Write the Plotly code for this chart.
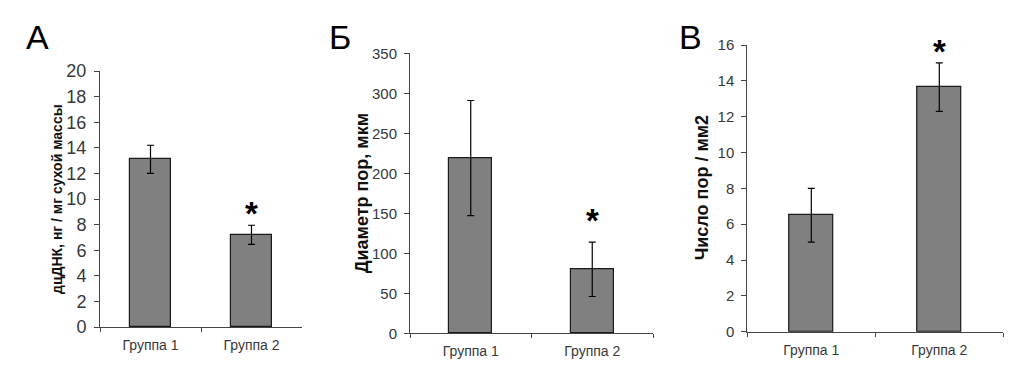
import plotly.graph_objects as go

# page body has an 8px margin; design in screen pixels and convert
OFF = 8
W, H = 1033 - OFF, 378 - OFF


def fx(px):
    return (px - OFF) / W


def fy(py):
    return 1 - (py - OFF) / H


categories = ["Группа 1", "Группа 2"]

dna_values = [13.1, 7.2]
dna_err = [1.1, 0.75]

diam_values = [219, 80]
diam_err = [72, 34]

count_values = [6.5, 13.65]
count_err = [1.5, 1.35]

panel_letters = ["А", "Б", "В"]
y_titles = ["дцДНК, нг / мг сухой массы", "Диаметр пор, мкм", "Число пор / мм2"]
star_y = [9.4, 150, 16.0]

BAR = "#808080"
LINE = "#1a1a1a"
TXT = "#383838"
FONT = "Liberation Sans, Arial, sans-serif"

fig = go.Figure()

panels = [
    dict(vals=dna_values, err=dna_err, x0=100, x1=302, ytop=71, ybot=327,
         yr=[0, 20], dtick=2, bw=0.4, tfs=18, titlefs=14, star=star_y[0],
         letter_x=37, title_x=57),
    dict(vals=diam_values, err=diam_err, x0=410, x1=653, ytop=53.3, ybot=333.3,
         yr=[0, 350], dtick=50, bw=0.35, tfs=15, titlefs=18, star=star_y[1],
         letter_x=340, title_x=362),
    dict(vals=count_values, err=count_err, x0=747.3, x1=1003.3, ytop=45, ybot=331.7,
         yr=[0, 16], dtick=2, bw=0.35, tfs=15, titlefs=18, star=star_y[2],
         letter_x=690, title_x=702),
]

for i, p in enumerate(panels):
    n = "" if i == 0 else str(i + 1)
    fig.add_trace(go.Bar(
        x=categories, y=p["vals"], width=p["bw"],
        marker=dict(color=BAR, line=dict(color=LINE, width=1.2)),
        error_y=dict(type="data", array=p["err"], visible=True,
                     color="black", thickness=1.2, width=3.5),
        xaxis="x" + n, yaxis="y" + n, showlegend=False,
    ))
    fig.update_layout(**{
        "xaxis" + n: dict(
            domain=[fx(p["x0"]), fx(p["x1"])], anchor="y" + n,
            type="category", range=[-0.5, 1.5], tickson="boundaries",
            ticks="outside", ticklen=4, tickcolor="#444", showline=True,
            linecolor="#444", linewidth=1, showgrid=False, automargin=False,
            ticklabelstandoff=5,
            tickfont=dict(family=FONT, size=14, color=TXT),
        ),
        "yaxis" + n: dict(
            domain=[fy(p["ybot"]), fy(p["ytop"])], anchor="x" + n,
            range=p["yr"], dtick=p["dtick"], ticks="outside", ticklen=5,
            tickcolor="#444", showline=True, linecolor="#444", linewidth=1,
            showgrid=False, zeroline=False, automargin=False,
            ticklabelstandoff=4,
            tickfont=dict(family=FONT, size=p["tfs"], color=TXT),
        ),
    })
    fig.add_annotation(
        x=fx(p["title_x"]), y=fy((p["ytop"] + p["ybot"]) / 2),
        xref="paper", yref="paper", text="<b>" + y_titles[i] + "</b>",
        textangle=-90, showarrow=False, xanchor="center", yanchor="middle",
        font=dict(family="Liberation Sans, Arial, sans-serif", size=p["titlefs"], color="#111"),
    )
    fig.add_annotation(
        x=fx(p["letter_x"]), y=fy(37), xref="paper", yref="paper",
        text=panel_letters[i], showarrow=False, xanchor="center", yanchor="middle",
        font=dict(family="Liberation Sans, Arial, sans-serif", size=34, color="black"),
    )
    fig.add_annotation(
        x=categories[1], y=p["star"], xref="x" + n, yref="y" + n,
        text="<b>*</b>", showarrow=False, xanchor="center", yanchor="middle",
        yshift=-7,
        font=dict(family="Liberation Sans, Arial, sans-serif", size=33, color="black"),
    )

fig.update_layout(
    width=W, height=H, margin=dict(l=0, r=0, t=0, b=0, autoexpand=False),
    paper_bgcolor="white", plot_bgcolor="white",
    bargap=0,
)

fig.write_html("out.html")
